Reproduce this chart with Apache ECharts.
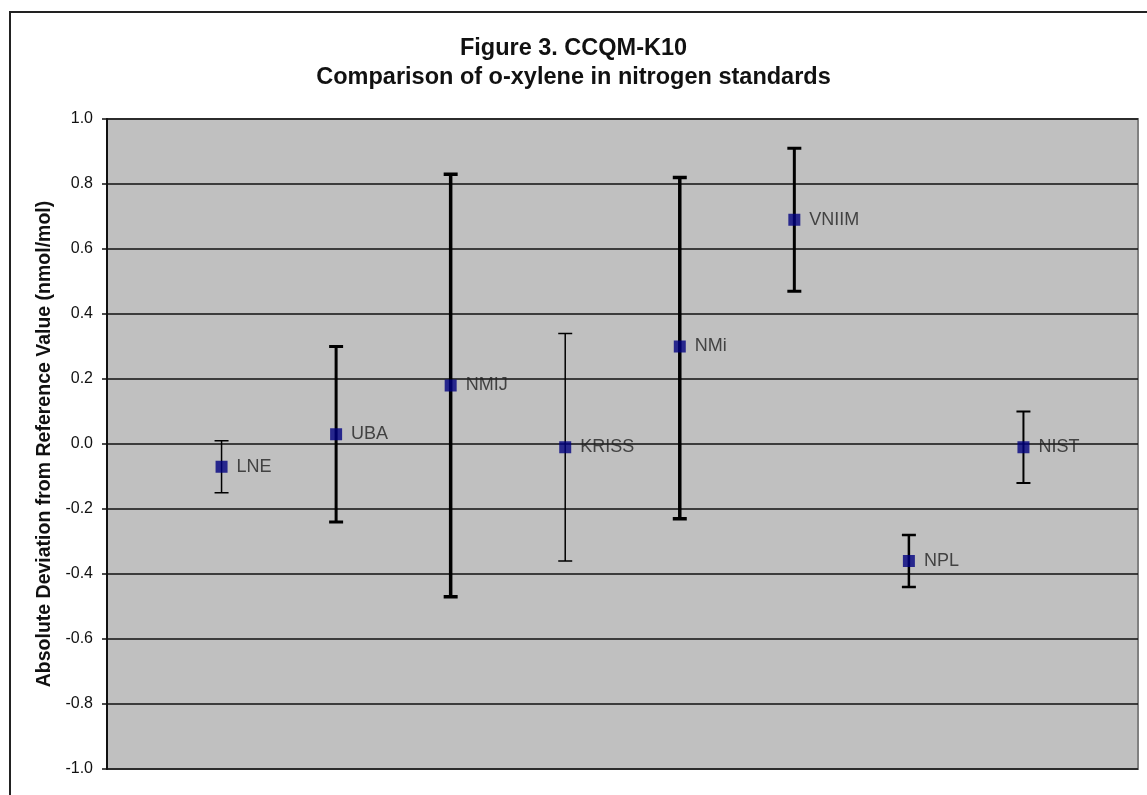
<!DOCTYPE html>
<html>
<head>
<meta charset="utf-8">
<script src="https://cdn.jsdelivr.net/npm/echarts@6/dist/echarts.min.js"></script>
<style>
  html, body { margin: 0; padding: 0; background: #fff; }
  #frame {
    position: absolute;
    left: 9px;
    top: 11px;
    width: 1160px;
    height: 820px;
    border: 2px solid #222;
    box-sizing: border-box;
  }
  #chart { position: absolute; left: 0; top: 0; width: 1147px; height: 795px; }
</style>
</head>
<body>
<div id="frame"></div>
<div id="chart"></div>
<script>
// laboratories, in plotting order
const labs = ['LNE', 'UBA', 'NMIJ', 'KRISS', 'NMi', 'VNIIM', 'NPL', 'NIST']
// deviation from reference value (nmol/mol)
const deviation = [-0.07, 0.03, 0.18, -0.01, 0.30, 0.69, -0.36, -0.01]
// error bar ends
const upper = [0.01, 0.30, 0.83, 0.34, 0.82, 0.91, -0.28, 0.10]
const lower = [-0.15, -0.24, -0.47, -0.36, -0.23, 0.47, -0.44, -0.12]
const yTicks = [-1.0, -0.8, -0.6, -0.4, -0.2, 0.0, 0.2, 0.4, 0.6, 0.8, 1.0]

// line width of each error bar in the original
const barLineWidth = [1.5, 3, 3.5, 1.5, 3.5, 3, 2.5, 2]

const pointData = labs.map((name, i) => ({ name, value: [i + 1, deviation[i]] }))
const errData = labs.map((name, i) => [i + 1, lower[i], upper[i], i])

const chart = echarts.init(document.getElementById('chart'))
chart.setOption({
  animation: false,
  textStyle: { fontFamily: 'Liberation Sans, Arial, sans-serif' },
  title: {
    text: 'Figure 3. CCQM-K10\nComparison of o-xylene in nitrogen standards',
    left: 'center',
    top: 29,
    textStyle: {
      fontSize: 23.5,
      fontWeight: 'bold',
      color: '#111',
      lineHeight: 29,
    },
  },
  grid: {
    left: 107,
    right: 9,
    top: 119,
    bottom: 26,
    show: true,
    backgroundColor: '#c0c0c0',
    borderColor: '#808080',
    borderWidth: 2,
  },
  xAxis: {
    type: 'value',
    min: 0,
    max: labs.length + 1,
    show: false,
  },
  yAxis: {
    type: 'value',
    min: yTicks[0],
    max: yTicks[yTicks.length - 1],
    interval: 0.2,
    name: 'Absolute Deviation from Reference Value (nmol/mol)',
    nameLocation: 'middle',
    nameGap: 52,
    nameTextStyle: { fontSize: 19.5, fontWeight: 'bold', color: '#111' },
    axisLine: { show: true, lineStyle: { color: '#111', width: 2 } },
    axisTick: { show: true, length: 5, lineStyle: { color: '#111', width: 1.5 } },
    axisLabel: {
      fontSize: 16,
      color: '#111',
      margin: 14,
      formatter: v => v.toFixed(1),
    },
    splitLine: { show: true, lineStyle: { color: '#111', width: 1.5 } },
  },
  series: [
    {
      type: 'custom',
      data: errData,
      z: 2,
      renderItem: (params, api) => {
        const x = api.value(0)
        const lo = api.coord([x, api.value(1)])
        const hi = api.coord([x, api.value(2)])
        const w = barLineWidth[api.value(3)]
        const half = 7
        const style = { stroke: '#000', lineWidth: w }
        return {
          type: 'group',
          children: [
            { type: 'line', shape: { x1: hi[0], y1: hi[1], x2: lo[0], y2: lo[1] }, style },
            { type: 'line', shape: { x1: hi[0] - half, y1: hi[1], x2: hi[0] + half, y2: hi[1] }, style },
            { type: 'line', shape: { x1: lo[0] - half, y1: lo[1], x2: lo[0] + half, y2: lo[1] }, style },
          ],
        }
      },
    },
    {
      type: 'scatter',
      data: pointData,
      symbol: 'rect',
      symbolSize: 12,
      z: 3,
      itemStyle: { color: '#000080' },
      label: {
        show: true,
        position: 'right',
        distance: 9,
        formatter: p => p.name,
        fontSize: 18,
        color: '#222',
      },
    },
  ],
})
</script>
</body>
</html>
